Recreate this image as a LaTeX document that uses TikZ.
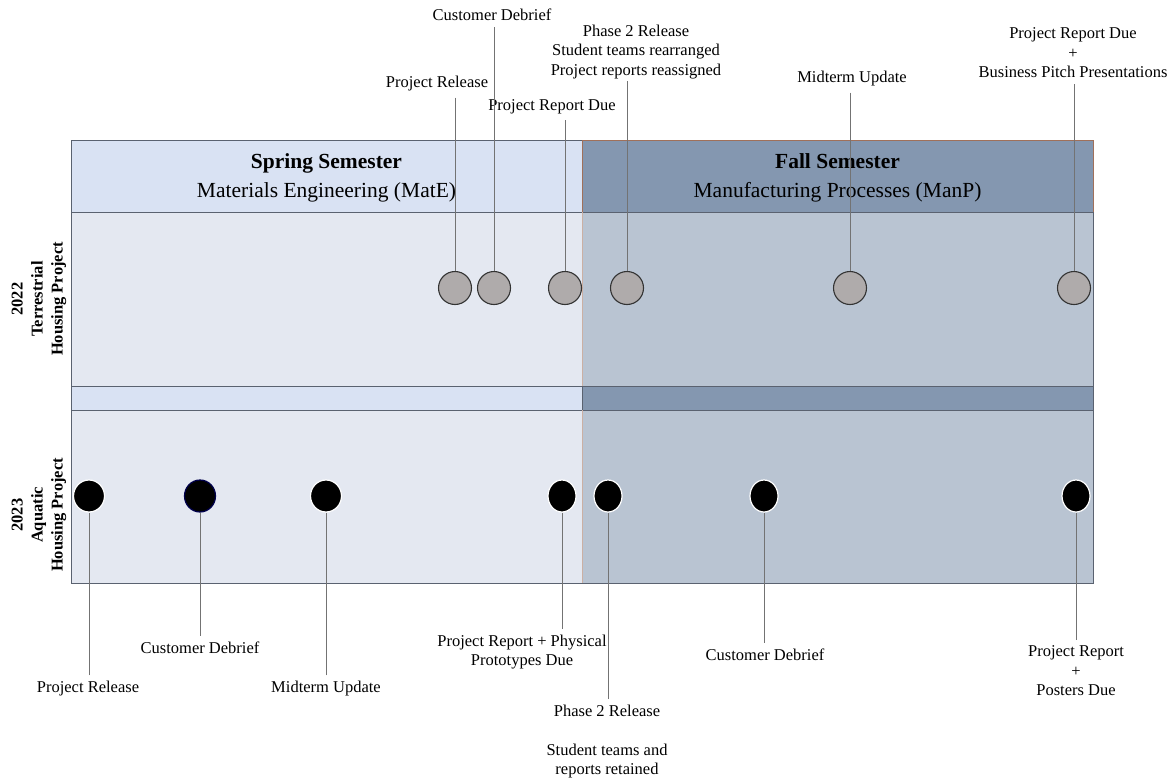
\documentclass[tikz,border=0pt]{standalone}
\usepackage{fontspec}
\setmainfont{Liberation Serif}
\usetikzlibrary{shapes.geometric}
\definecolor{springhead}{HTML}{D9E2F3}
\definecolor{springbody}{HTML}{E4E8F1}
\definecolor{fallhead}{HTML}{8497B0}
\definecolor{fallbody}{HTML}{B9C4D2}
\definecolor{framegrey}{HTML}{5A6270}
\definecolor{fallrim}{HTML}{A0705A}
\definecolor{dotgrey}{HTML}{AFABAB}
\begin{document}
\begin{tikzpicture}[x=1pt,y=-1pt,
  font=\fontsize{16.5}{19.5}\selectfont,
  lbl/.style={align=center,inner sep=0pt},
  head/.style={align=center,inner sep=0pt,font=\fontsize{21.5}{29}\selectfont},
  rowlbl/.style={align=center,inner sep=0pt,rotate=90,font=\fontsize{16.5}{20}\selectfont\bfseries},
  stem/.style={draw=black!55,line width=0.9pt,shorten <=6pt},
  greydot/.style={circle,minimum size=33pt,inner sep=0pt,fill=dotgrey,draw=black!80,line width=1.1pt},
  blackdot/.style={ellipse,minimum width=31pt,minimum height=32pt,inner sep=0pt,fill=black,draw=white,line width=1.2pt}]
\useasboundingbox (0,0) rectangle (1174,781);

\fill[springbody] (71,212) rectangle (582,583);
\fill[fallbody] (582,212) rectangle (1093,583);
\filldraw[fill=springhead,draw=framegrey] (71,140) rectangle (582,212);
\filldraw[fill=fallhead,draw=framegrey] (582,140) rectangle (1093,212);
\draw[fallrim] (582,212) -- (582,140) -- (1093,140) -- (1093,212);
\filldraw[fill=springhead,draw=framegrey] (71,386) rectangle (582,410);
\filldraw[fill=fallhead,draw=framegrey] (582,386) rectangle (1093,410);
\draw[framegrey] (71,212) -- (71,583) -- (1093,583) -- (1093,212);
\draw[fallrim!55] (582,212) -- (582,386) (582,410) -- (582,583);

\path (326.5,177.5) node[head](spring){\textbf{Spring Semester}\\Materials Engineering (MatE)}
  (837.5,177.5) node[head](fall){\textbf{Fall Semester}\\Manufacturing Processes (ManP)}
  (39,299) node[rowlbl](terra){2022\\Terrestrial\\Housing Project}
  (39,515) node[rowlbl](aqua){2023\\Aquatic\\Housing Project};

\path (455,288) node[greydot](g1){} (494,288) node[greydot](g2){} (565,288) node[greydot](g3){}
  (627,288) node[greydot](g4){} (850,288) node[greydot](g5){} (1074,288) node[greydot](g6){};
\path (89,496) node[blackdot](b1){} (200,496) node[blackdot,draw=black!70!blue](b2){} (326,496) node[blackdot](b3){}
  (562,496) node[blackdot,minimum width=28pt](b4){} (608,496) node[blackdot,minimum width=28pt](b5){}
  (764,496) node[blackdot,minimum width=28pt](b6){} (1076,496) node[blackdot,minimum width=28pt](b7){};

\path (437,84) node[lbl](relA){Project Release}
  (492,15) node[lbl](debA){Customer Debrief}
  (552,107) node[lbl](dueA){Project Report Due}
  (636,52) node[lbl](phaseA){Phase 2 Release\\Student teams rearranged\\Project reports reassigned}
  (852,79) node[lbl](midA){Midterm Update}
  (1073,53) node[lbl](pitchA){Project Report Due\\+\\Business Pitch Presentations};

\path (88,689) node[lbl](relB){Project Release}
  (200,648) node[lbl](debB){Customer Debrief}
  (326,689) node[lbl](midB){Midterm Update}
  (522,652) node[lbl](dueB){Project Report + Physical\\Prototypes Due}
  (607,711) node[lbl](phaseB){Phase 2 Release}
  (607,761) node[lbl](keptB){Student teams and\\reports retained}
  (765,655) node[lbl](debC){Customer Debrief}
  (1076,671) node[lbl](posterB){Project Report\\+\\Posters Due};

\draw[stem] (relA.south -| g1) -- (g1);
\draw[stem] (debA.south -| g2) -- (g2);
\draw[stem] (dueA.south -| g3) -- (g3);
\draw[stem,shorten <=2pt] (phaseA.south -| g4) -- (g4);
\draw[stem] (midA.south -| g5) -- (g5);
\draw[stem] (pitchA.south -| g6) -- (g6);

\draw[stem] (relB.north -| b1) -- (b1);
\draw[stem] (debB.north -| b2) -- (b2);
\draw[stem] (midB.north -| b3) -- (b3);
\draw[stem] (dueB.north -| b4) -- (b4);
\draw[stem] (phaseB.north -| b5) -- (b5);
\draw[stem] (debC.north -| b6) -- (b6);
\draw[stem] (posterB.north -| b7) -- (b7);
\end{tikzpicture}
\end{document}
